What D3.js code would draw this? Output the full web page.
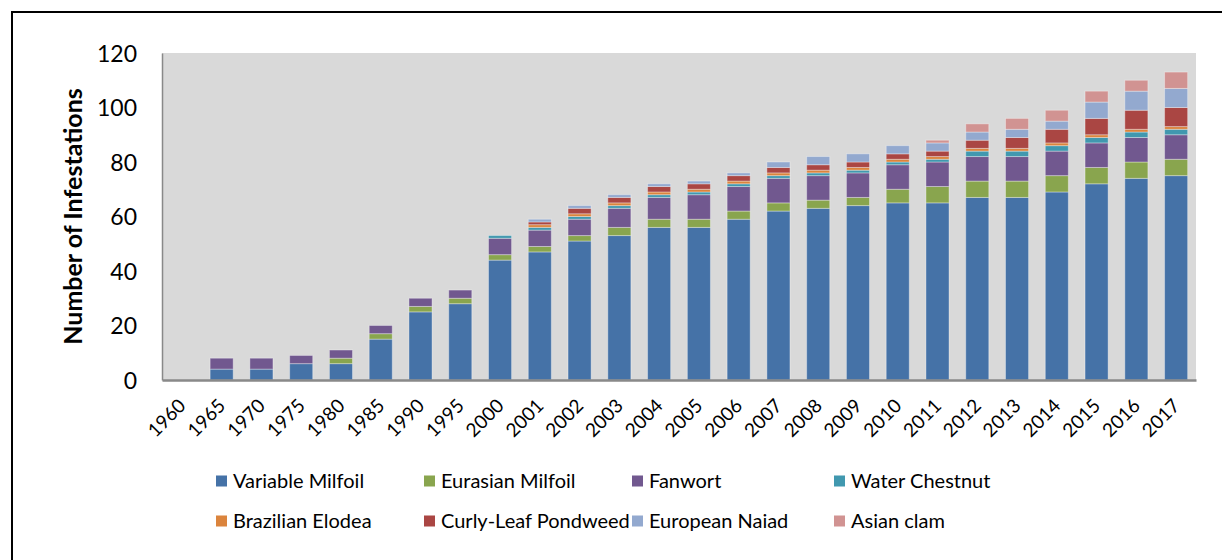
<!DOCTYPE html>
<html>
<head>
<meta charset="utf-8">
<script src="https://cdn.jsdelivr.net/npm/d3@7"></script>
<style>
  html, body { margin: 0; padding: 0; background: #fff; }
  svg { display: block; }
  text { font-family: Lato, "Open Sans", sans-serif; fill: #000; }
</style>
</head>
<body>
<svg id="chart" width="1222" height="560"></svg>
<script>
const years = ["1960","1965","1970","1975","1980","1985","1990","1995","2000","2001","2002","2003","2004","2005","2006","2007","2008","2009","2010","2011","2012","2013","2014","2015","2016","2017"];
const variableMilfoil = [0,4,4,6,6,15,25,28,44,47,51,53,56,56,59,62,63,64,65,65,67,67,69,72,74,75];
const eurasianMilfoil = [0,0,0,0,2,2,2,2,2,2,2,3,3,3,3,3,3,3,5,6,6,6,6,6,6,6];
const fanwort         = [0,4,4,3,3,3,3,3,6,6,6,7,8,9,9,9,9,9,9,9,9,9,9,9,9,9];
const waterChestnut   = [0,0,0,0,0,0,0,0,1,1,1,1,1,1,1,1,1,1,1,1,2,2,2,2,2,2];
const brazilianElodea = [0,0,0,0,0,0,0,0,0,1,1,1,1,1,1,1,1,1,1,1,1,1,1,1,1,1];
const curlyLeafPondweed = [0,0,0,0,0,0,0,0,0,1,2,2,2,2,2,2,2,2,2,2,3,4,5,6,7,7];
const europeanNaiad   = [0,0,0,0,0,0,0,0,0,1,1,1,1,1,1,2,3,3,3,3,3,3,3,6,7,7];
const asianClam       = [0,0,0,0,0,0,0,0,0,0,0,0,0,0,0,0,0,0,0,1,3,4,4,4,4,6];
const seriesNames = ["Variable Milfoil","Eurasian Milfoil","Fanwort","Water Chestnut","Brazilian Elodea","Curly-Leaf Pondweed","European Naiad","Asian clam"];
const seriesColors = ["#4572A7","#89A54E","#71588F","#4198AF","#DB843D","#AA4643","#93A9CF","#D19392"];
const yTicks = [0,20,40,60,80,100,120];
const yTitle = "Number of Infestations";

const seriesValues = [variableMilfoil, eurasianMilfoil, fanwort, waterChestnut, brazilianElodea, curlyLeafPondweed, europeanNaiad, asianClam];
const table = years.map((y, i) => {
  const row = { year: y };
  seriesNames.forEach((n, k) => row[n] = seriesValues[k][i]);
  return row;
});

const svg = d3.select("#chart");
// outer frame (only top and left visible in the crop)
svg.append("rect").attr("x", 12).attr("y", 12).attr("width", 1300).attr("height", 700)
  .attr("fill", "none").attr("stroke", "#000").attr("stroke-width", 2);

const plot = { left: 162, right: 1196, top: 53, bottom: 380 };
const x = d3.scaleBand().domain(years).range([plot.left, plot.right]).paddingInner(0.42).paddingOuter(0.21);
const y = d3.scaleLinear().domain([0, 120]).range([plot.bottom, plot.top]);

svg.append("rect").attr("x", plot.left).attr("y", plot.top)
  .attr("width", plot.right - plot.left).attr("height", plot.bottom - plot.top)
  .attr("fill", "#D9D9D9");

const stack = d3.stack().keys(seriesNames);
const layers = stack(table);

svg.append("g").selectAll("g").data(layers).join("g")
  .attr("fill", (d, i) => seriesColors[i])
  .selectAll("rect").data(d => d.filter(s => s[1] - s[0] > 0)).join("rect")
  .attr("x", d => x(d.data.year))
  .attr("width", x.bandwidth())
  .attr("y", d => y(d[1]))
  .attr("height", d => y(d[0]) - y(d[1]))
  .attr("stroke", "rgba(255,255,255,0.35)")
  .attr("stroke-width", 1);

// y axis
const yAxis = svg.append("g").attr("transform", `translate(${plot.left},0)`)
  .call(d3.axisLeft(y).tickValues(yTicks).tickSize(0).tickPadding(25));
yAxis.select(".domain").attr("stroke", "#898989").attr("stroke-width", 1.5);
yAxis.selectAll("text").style("font-size", "23px").attr("dy", "0.35em");

// x axis
const xAxis = svg.append("g").attr("transform", `translate(0,${plot.bottom})`)
  .call(d3.axisBottom(x).tickSize(0).tickPadding(0));
xAxis.select(".domain").attr("stroke", "#898989").attr("stroke-width", 2.5);
xAxis.selectAll("text")
  .style("font-size", "19px")
  .attr("text-anchor", "end")
  .attr("dy", 0).attr("y", 0)
  .attr("transform", "translate(5,27) rotate(-45)");

// y title
svg.append("text")
  .attr("transform", `translate(82,${(88+345)/2}) rotate(-90)`)
  .attr("text-anchor", "middle")
  .style("font-size", "25px").style("font-weight", "bold")
  .text(yTitle);

// legend
const legendX = [216, 424, 632, 834];
const legendY = [481, 521];
const lg = svg.append("g").selectAll("g").data(seriesNames).join("g")
  .attr("transform", (d, i) => `translate(${legendX[i % 4]},${legendY[Math.floor(i / 4)]})`);
lg.append("rect").attr("x", 0).attr("y", -5.5).attr("width", 11).attr("height", 11)
  .attr("fill", (d, i) => seriesColors[i]);
lg.append("text").attr("x", 17).attr("dy", "0.36em").style("font-size", "20px").text(d => d);
</script>
</body>
</html>
